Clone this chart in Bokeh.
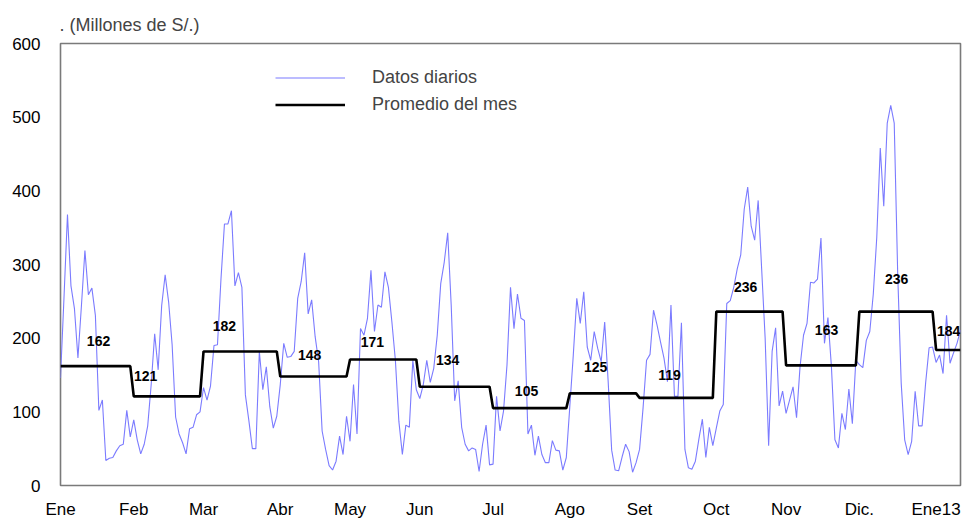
from bokeh.plotting import figure
from bokeh.models import FixedTicker, Legend, LegendItem, Range1d, Label
from bokeh.embed import file_html
from bokeh.resources import INLINE

# ---- data ----
month_labels = ["Ene", "Feb", "Mar", "Abr", "May", "Jun", "Jul", "Ago", "Set", "Oct", "Nov", "Dic.", "Ene13"]

ene = [146, 255, 368, 271, 240, 173, 244, 319, 259, 268, 231, 102, 116, 34, 37, 38, 47, 54, 56, 102, 66]
feb = [89, 62, 43, 56, 81, 137, 206, 157, 244, 286, 249, 191, 93, 70, 58, 43, 77, 79, 96, 100]
mar = [133, 116, 135, 190, 191, 280, 355, 355, 373, 271, 289, 269, 123, 88, 50, 50, 182, 130, 161, 107, 78, 94]
abr = [137, 193, 174, 175, 182, 254, 277, 316, 233, 252, 202, 168, 74, 49, 27, 21, 33, 67, 42, 94]
may = [60, 137, 70, 213, 204, 227, 292, 209, 245, 242, 290, 269, 222, 170, 87, 42, 82, 79, 170, 130]
jun = [118, 137, 170, 140, 159, 204, 274, 303, 343, 245, 115, 142, 79, 56, 47, 51, 49, 19, 56, 82, 28]
jul = [29, 121, 74, 101, 164, 269, 213, 260, 227, 224, 70, 82, 41, 67, 42, 31, 31, 61, 48, 47, 21, 38]
ago = [107, 177, 254, 220, 263, 188, 170, 209, 186, 168, 222, 141, 48, 21, 20, 39, 56, 46, 18, 31]
sep = [49, 105, 170, 178, 238, 218, 195, 173, 141, 245, 121, 121, 221, 49, 24, 22, 33, 63, 90, 38, 79, 54]
oct_ = [78, 101, 110, 247, 251, 269, 294, 313, 375, 405, 352, 333, 387, 294, 200, 54, 182, 214, 108, 128]
nov = [98, 116, 134, 92, 161, 204, 220, 276, 275, 280, 336, 193, 228, 161, 62, 51, 98, 76, 131, 84, 170]
dic = [164, 160, 197, 209, 260, 337, 458, 379, 492, 516, 492, 287, 139, 62, 42, 60, 128, 81, 81, 139, 187, 188]
ene13 = [167, 177, 152, 231, 166, 180, 193, 211]

monthly_avg = [162, 121, 182, 148, 171, 134, 105, 125, 119, 236, 163, 236, 184]
avg_text = ["162", "121", "182", "148", "171", "134", "105", "125", "119", "236", "163", "236", "184"]

y_ticks = [0, 100, 200, 300, 400, 500, 600]

# ---- layout of value labels (offsets, not data) ----
label_dx_days = [10.9, 3.4, 6.0, 8.4, 6.4, 8.0, 9.6, 7.4, 8.6, 8.4, 11.6, 10.7, 3.6]
label_dy_px = [25, 20, 25, 21, 18, 27, 17, 26, 23, 25, 35, 33, 19]

by_month = [ene, feb, mar, abr, may, jun, jul, ago, sep, oct_, nov, dic, ene13]
daily = [v for m in by_month for v in m]
xs = list(range(len(daily)))
avg_series = [a for a, m in zip(monthly_avg, by_month) for _ in m]
starts = []
acc = 0
for m in by_month:
    starts.append(acc)
    acc += len(m)
last = len(daily) - 1

FONT = "Liberation Sans"

p = figure(width=969, height=521,
           x_range=Range1d(0, last), y_range=Range1d(y_ticks[0], y_ticks[-1]),
           output_backend="svg", toolbar_location=None,
           min_border_left=60, min_border_right=9, min_border_top=43, min_border_bottom=33)

p.title.text = ". (Millones de S/.)"
p.title.text_font = FONT
p.title.text_font_size = "18px"
p.title.text_font_style = "normal"
p.title.align = "left"
p.title.offset = -1
p.title.standoff = 18

r_blue = p.line(xs, daily, line_color="#7b7bff", line_width=1.1)
r_black = p.line(xs, avg_series, line_color="black", line_width=2.6)

for i, t in enumerate(avg_text):
    p.add_layout(Label(x=starts[i] + label_dx_days[i], y=monthly_avg[i], y_offset=label_dy_px[i],
                       text=t, text_font=FONT, text_font_size="14px", text_font_style="bold",
                       text_align="center", text_baseline="middle", text_color="black"))

legend = Legend(items=[LegendItem(label="Datos diarios", renderers=[r_blue]),
                       LegendItem(label="Promedio del mes", renderers=[r_black])],
                location=(215, 370), glyph_width=70, glyph_height=21, label_height=21,
                label_standoff=27, spacing=6, padding=0, margin=0,
                border_line_color=None, background_fill_alpha=0,
                label_text_font=FONT, label_text_font_size="18px")
p.add_layout(legend)

p.xgrid.visible = False
p.ygrid.visible = False
p.outline_line_color = "#7a7a7a"
p.outline_line_width = 1.6

p.xaxis.ticker = FixedTicker(ticks=starts)
p.xaxis.major_label_overrides = {s: lab for s, lab in zip(starts, month_labels)}
p.yaxis.ticker = FixedTicker(ticks=y_ticks)
for ax in (p.xaxis, p.yaxis):
    ax.axis_line_color = None
    ax.major_tick_line_color = None
    ax.minor_tick_line_color = None
    ax.major_tick_out = 0
    ax.major_tick_in = 0
    ax.minor_tick_out = 0
    ax.minor_tick_in = 0
    ax.major_label_text_font = FONT
    ax.major_label_text_font_size = "17px"
    ax.major_label_text_color = "black"
p.xaxis.major_label_standoff = 14
p.yaxis.major_label_standoff = 20

open("out.html", "w").write(file_html(p, INLINE))
